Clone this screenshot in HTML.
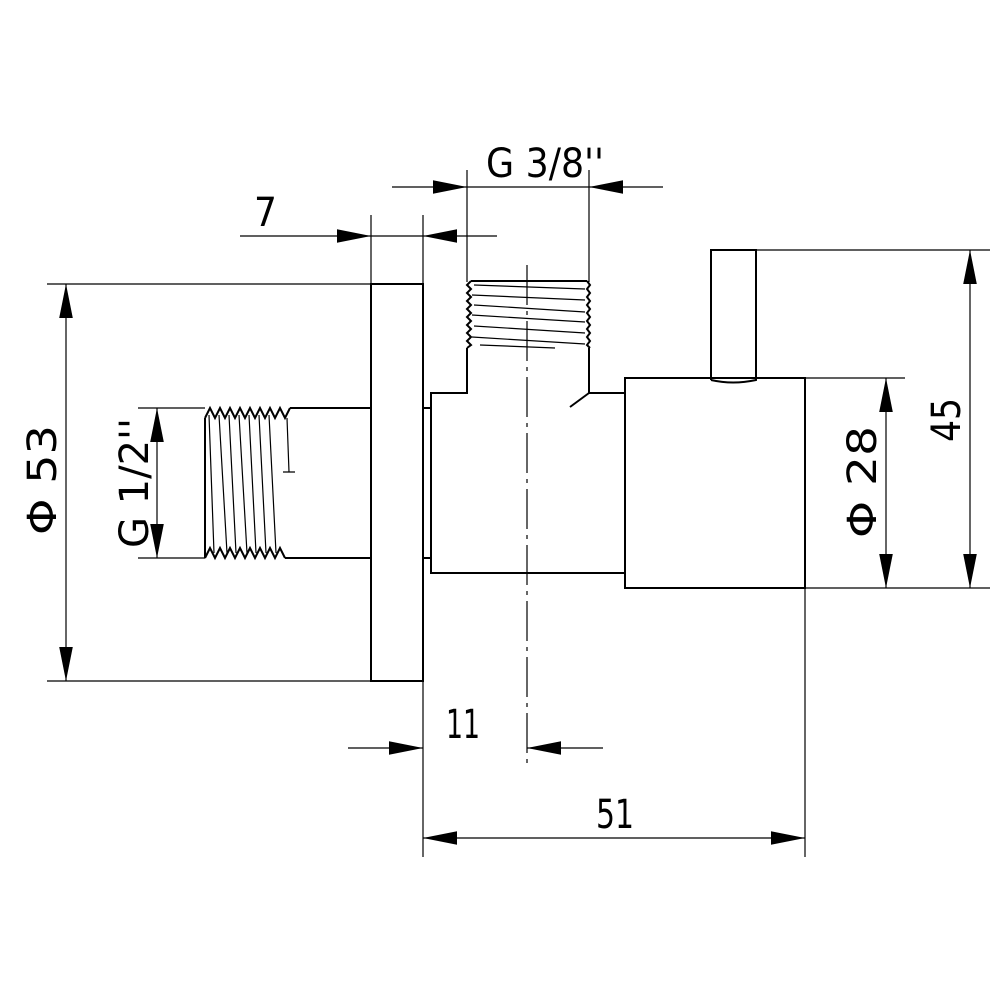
<!DOCTYPE html>
<html><head><style>body{margin:0;background:#fff}svg{display:block}text{font-family:"DejaVu Sans Condensed","Liberation Sans",sans-serif;font-size:40px;fill:#000}</style></head>
<body>
<svg width="1000" height="1000" viewBox="0 0 1000 1000" xmlns="http://www.w3.org/2000/svg">
<defs>
<marker id="a" viewBox="0 0 10 4" refX="10" refY="2" markerWidth="34" markerHeight="14" markerUnits="userSpaceOnUse" orient="auto"><path d="M0,0L10,2L0,4z" fill="#000"/></marker>
</defs>
<g stroke="#000" fill="none">
<g stroke-width="1.2">
<line x1="47" y1="284" x2="371" y2="284"/><line x1="47" y1="681" x2="371" y2="681"/>
<line x1="138" y1="408" x2="205" y2="408"/><line x1="138" y1="558" x2="205" y2="558"/>
<line x1="371" y1="215" x2="371" y2="284"/><line x1="423" y1="215" x2="423" y2="284"/>
<line x1="467" y1="170" x2="467" y2="282"/><line x1="589" y1="170" x2="589" y2="282"/>
<line x1="756" y1="250" x2="990" y2="250"/><line x1="805" y1="588" x2="990" y2="588"/>
<line x1="805" y1="378" x2="905" y2="378"/>
<line x1="423" y1="681" x2="423" y2="857"/><line x1="805" y1="588" x2="805" y2="857"/>
<line x1="527" y1="265" x2="527" y2="765" stroke-dasharray="40,6,4,6"/>
<line x1="66" y1="300" x2="66" y2="284" marker-end="url(#a)"/><line x1="66" y1="300" x2="66" y2="665"/><line x1="66" y1="665" x2="66" y2="681" marker-end="url(#a)"/>
<line x1="157" y1="430" x2="157" y2="408" marker-end="url(#a)"/><line x1="157" y1="430" x2="157" y2="536"/><line x1="157" y1="536" x2="157" y2="558" marker-end="url(#a)"/>
<line x1="240" y1="236" x2="371" y2="236" marker-end="url(#a)"/><line x1="497" y1="236" x2="423" y2="236" marker-end="url(#a)"/><line x1="371" y1="236" x2="423" y2="236"/>
<line x1="392" y1="187" x2="467" y2="187" marker-end="url(#a)"/><line x1="663" y1="187" x2="589" y2="187" marker-end="url(#a)"/><line x1="467" y1="187" x2="589" y2="187"/>
<line x1="970" y1="280" x2="970" y2="250" marker-end="url(#a)"/><line x1="970" y1="280" x2="970" y2="560"/><line x1="970" y1="560" x2="970" y2="588" marker-end="url(#a)"/>
<line x1="886" y1="400" x2="886" y2="378" marker-end="url(#a)"/><line x1="886" y1="400" x2="886" y2="566"/><line x1="886" y1="566" x2="886" y2="588" marker-end="url(#a)"/>
<line x1="348" y1="748" x2="423" y2="748" marker-end="url(#a)"/><line x1="603" y1="748" x2="527" y2="748" marker-end="url(#a)"/>
<line x1="460" y1="838" x2="423" y2="838" marker-end="url(#a)"/><line x1="460" y1="838" x2="770" y2="838"/><line x1="770" y1="838" x2="805" y2="838" marker-end="url(#a)"/>
<path d="M209,415L214,553M219,415L227,553M229,415L236,553M239,415L247,553M249,415L256,553M259,415L266,553M269,415L276,553M287,418L289,472M283,472L295,472" />
<path d="M474,285L585,289M472,295L585,300M474,305L585,312M472,315L585,322M474,326L585,333M472,337L585,344M480,345L555,348"/>
</g>
<g stroke-width="2">
<rect x="371" y="284" width="52" height="397"/>
<path d="M423,408H431M423,558H431"/>
<path d="M290,408H371M285,558H371"/>
<path d="M205,418L210,408L215,418L220,408L225,418L230,408L235,418L240,408L245,418L250,408L255,418L260,408L265,418L270,408L275,418L280,408L285,418L290,408"/>
<path d="M205,558L210,548L215,558L220,548L225,558L230,548L235,558L240,548L245,558L250,548L255,558L260,548L265,558L270,548L275,558L280,548L285,558"/>
<line x1="205" y1="418" x2="205" y2="558"/>
<path d="M625,573H431V393H467V348M589,348V393H625"/>
<path d="M589,393L570,407"/>
<line x1="471" y1="281" x2="587" y2="281"/>
<path d="M471,281L467,285L471,289L467,293L471,297L467,301L471,305L467,309L471,313L467,317L471,321L467,325L471,329L467,333L471,337L467,341L471,345L467,348"/>
<path d="M587,281L590,285L587,289L590,293L587,297L590,301L587,305L590,309L587,313L590,317L587,321L590,325L587,329L590,333L587,337L590,341L587,345L590,348"/>
<rect x="625" y="378" width="180" height="210"/>
<path d="M711,380V250H756V380Q733,385 711,380"/>
</g>
</g>
<text x="254" y="226">7</text>
<text x="486" y="177" textLength="118" lengthAdjust="spacingAndGlyphs">G 3/8''</text>
<text x="446" y="738" textLength="34" lengthAdjust="spacingAndGlyphs">11</text>
<text x="596" y="828" textLength="38" lengthAdjust="spacingAndGlyphs">51</text>
<text transform="translate(56,535) rotate(-90)" textLength="110" lengthAdjust="spacingAndGlyphs">Φ 53</text>
<text transform="translate(148,548) rotate(-90)" textLength="130" lengthAdjust="spacingAndGlyphs">G 1/2''</text>
<text transform="translate(876,538) rotate(-90)" textLength="112" lengthAdjust="spacingAndGlyphs">Φ 28</text>
<text transform="translate(960,442) rotate(-90)" textLength="44" lengthAdjust="spacingAndGlyphs">45</text>
</svg>
</body></html>
